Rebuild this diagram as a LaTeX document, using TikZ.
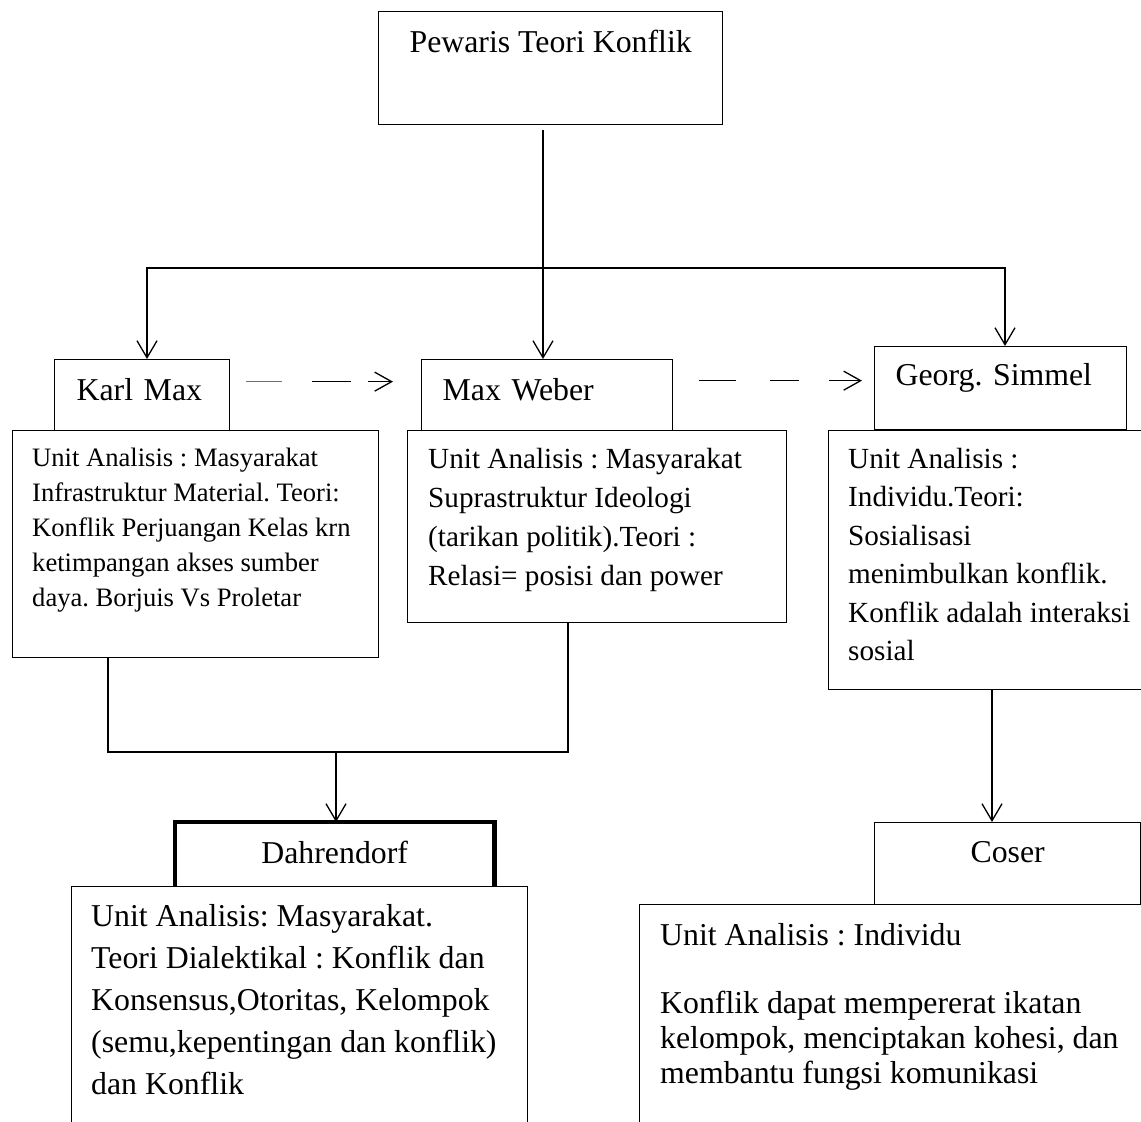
\documentclass[tikz,border=0pt]{standalone}
\usepackage{fontspec}
\setmainfont[Ligatures=NoCommon]{Liberation Serif}
\usetikzlibrary{calc, arrows.meta}
\definecolor{wordblue}{RGB}{68,114,196}
\frenchspacing

\begin{document}
\begin{tikzpicture}[
    x=1pt, y=-1pt,
    >={Straight Barb[length=17pt, width=20pt]},
    hd/.style={inner sep=0pt, anchor=north west, font=\fontsize{31.8}{38}\selectfont},
    box/.style={draw, line width=1.3pt, inner sep=0pt, anchor=north west},
    body/.style={inner sep=0pt, anchor=north west, align=left},
    link/.style={line width=1.3pt},
    arr/.style={->, line width=1.3pt},
    dasharr/.style={-{Straight Barb[length=17pt, width=19pt]}, line width=1.3pt}
]

    % Page frame
    \clip[use as bounding box] (0,0) rectangle (1141,1122);

    % Title box
    \node[hd, draw, line width=1.3pt, minimum width=344pt, text height=41pt, text depth=72pt] (top) at (378,11) {Pewaris Teori Konflik};

    % Header boxes
    \node[hd, draw, line width=1.3pt, inner xsep=22pt, text width=131pt, align=left, text height=41pt, text depth=30pt] (karl) at (54,359) {Karl Max};
    \node[hd, draw, line width=1.3pt, inner xsep=21pt, text width=209pt, align=left, text height=41pt, text depth=30pt] (weber) at (421,359) {Max Weber};
    \node[hd, draw, line width=1.3pt, inner xsep=21pt, text width=210pt, align=left, text height=39pt, text depth=44pt] (sim) at (874,346) {Georg. Simmel};
    \node[hd, minimum width=319pt, text height=41pt, text depth=23pt] (dahr) at (175,822) {Dahrendorf};
    \node[hd, draw, line width=1.3pt, minimum width=266pt, text height=40pt, text depth=42pt] (coser) at (874,822) {Coser};

    % Thick frame round Dahrendorf (open at the bottom)
    \draw[line width=4.5pt] (dahr.south west) -- (dahr.north west) -- (dahr.north east) -- (dahr.south east);

    % Text boxes
    \node[box, minimum width=366pt, minimum height=227pt] (karlT) at (12,430) {};
    \node[box, minimum width=379pt, minimum height=192pt] (weberT) at (407,430) {};
    \node[box, minimum width=340pt, minimum height=259pt] (simT) at (828,430) {};
    \node[box, minimum width=456pt, minimum height=260pt] (dahrT) at (71,886) {};
    \node[box, minimum width=520pt, minimum height=240pt] (coserT) at (639,904) {};

    % Texts
    \node[body, font=\fontsize{26.6}{35}\selectfont] (karlTx) at (32,448) {Unit Analisis : Masyarakat\\Infrastruktur Material. Teori:\\Konflik Perjuangan Kelas krn\\ketimpangan akses sumber\\daya. Borjuis Vs Proletar};
    \node[body, font=\fontsize{29.2}{39}\selectfont] (weberTx) at (428,448) {Unit Analisis : Masyarakat\\Suprastruktur Ideologi\\(tarikan politik).Teori :\\Relasi= posisi dan power};
    \node[body, font=\fontsize{29.2}{38.5}\selectfont] (simTx) at (848,448) {Unit Analisis :\\Individu.Teori:\\Sosialisasi\\menimbulkan konflik.\\Konflik adalah interaksi\\sosial};
    \node[body, font=\fontsize{31.8}{42}\selectfont] (dahrTx) at (91,904) {Unit Analisis: Masyarakat.\\Teori Dialektikal : Konflik dan\\Konsensus,Otoritas, Kelompok\\(semu,kepentingan dan konflik)\\dan Konflik};
    \node[body, font=\fontsize{31.8}{35}\selectfont] (coserTx) at (660,923) {Unit Analisis : Individu\\[33pt]Konflik dapat mempererat ikatan\\kelompok, menciptakan kohesi, dan\\membantu fungsi komunikasi};

    % Branching from the title
    \coordinate (stem) at (543,130);
    \coordinate (barL) at (147,268);
    \coordinate (barR) at (1005,268);
    \draw[arr] (stem) -- (stem |- weber.north);
    \draw[<->, line width=1.3pt] (barL |- karl.north) -- (barL) -- (barR) -- (barR |- sim.north);

    % Dashed links between the headers
    \draw[dasharr, dash pattern=on 36pt off 30pt on 39pt off 17pt on 60pt off 10pt] ([shift={(16pt,13.5pt)}]karl.east) -- ([shift={(-28pt,13.5pt)}]weber.west);
    \draw[link, wordblue] ([shift={(16pt,13.5pt)}]karl.east) -- +(36,0);
    \draw[dasharr, dash pattern=on 37pt off 34pt on 29pt off 30pt on 60pt off 10pt] ([shift={(26pt,14.5pt)}]weber.east) -- ([shift={(-12pt,7.5pt)}]sim.west);

    % Marx and Weber into Dahrendorf
    \coordinate (joinL) at (108,752);
    \coordinate (joinR) at (568,752);
    \coordinate (joinM) at (336,752);
    \draw[link] (joinL |- karlT.south) -- (joinL) -- (joinR) -- (joinR |- weberT.south);
    \draw[arr] (joinM) -- (joinM |- dahr.north);

    % Simmel into Coser
    \coordinate (drop) at (992,760);
    \draw[arr] (simT.south -| drop) -- (coser.north -| drop);

\end{tikzpicture}
\end{document}
